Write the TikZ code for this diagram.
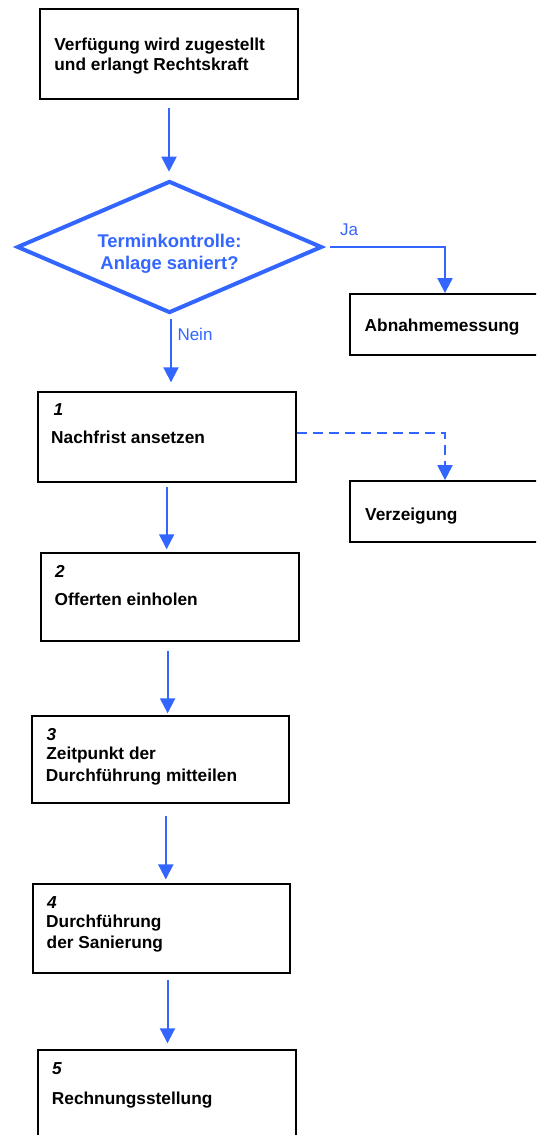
\documentclass[tikz,border=0pt]{standalone}
\usepackage{fontspec}
\setmainfont{Liberation Sans}
\usetikzlibrary{arrows.meta,shapes.geometric}
\definecolor{flowblue}{RGB}{51,102,255}
\tikzset{
  flowbox/.style={draw=black, line width=1.8pt, rectangle, inner sep=0pt},
  decision/.style={draw=flowblue, line width=4pt, diamond, inner sep=0pt},
  arr/.style={draw=flowblue, line width=2pt, -{Triangle[width=15pt,length=15pt]}},
  dasharr/.style={arr, dash pattern=on 10pt off 6pt},
  txt/.style={anchor=base west, inner sep=0pt, text=black, font=\fontsize{17.3}{20}\selectfont\bfseries},
  numtxt/.style={txt, font=\fontsize{17.3}{20}\selectfont\bfseries\itshape},
  bluetxt/.style={anchor=base, inner sep=0pt, text=flowblue, font=\fontsize{18.4}{22}\selectfont\bfseries},
  lbltxt/.style={anchor=base west, inner sep=0pt, text=flowblue, font=\fontsize{17}{20}\selectfont}
}
\begin{document}
\begin{tikzpicture}[x=1pt,y=-1pt]
\path[use as bounding box, clip] (0,0) rectangle (536,1135);
\fill[white] (0,0) rectangle (536,1135);

% boxes
\node[flowbox, minimum width=258pt, minimum height=90.3pt] (topbox) at (169,53.85) {};
\node[decision, minimum width=305pt, minimum height=132pt] (dia) at (169.5,247) {};
\node[flowbox, minimum width=190pt, minimum height=61pt] (abn) at (445,324.5) {};
\node[flowbox, minimum width=258pt, minimum height=90pt] (b1) at (166.65,436.7) {};
\node[flowbox, minimum width=190pt, minimum height=61.3pt] (ver) at (445,511.7) {};
\node[flowbox, minimum width=258pt, minimum height=87.4pt] (b2) at (169.6,597) {};
\node[flowbox, minimum width=257pt, minimum height=87pt] (b3) at (160.8,759.2) {};
\node[flowbox, minimum width=257.5pt, minimum height=89pt] (b4) at (161.5,928.8) {};
\node[flowbox, minimum width=258pt, minimum height=90pt] (b5) at (166.7,1095) {};

% texts
\node[txt] (t0a) at (54.2,50) {Verfügung wird zugestellt};
\node[txt] (t0b) at (54.2,70) {und erlangt Rechtskraft};
\node[bluetxt] (dq1) at (169.5,247.3) {Terminkontrolle:};
\node[bluetxt] (dq2) at (169.5,269.3) {Anlage saniert?};
\node[lbltxt] (ja) at (340,235.3) {Ja};
\node[lbltxt] (nein) at (177.3,340.7) {Nein};
\node[txt] (tabn) at (364.5,331.5) {Abnahmemessung};
\node[numtxt] (n1) at (53.5,415) {1};
\node[txt] (t1) at (51,443.3) {Nachfrist ansetzen};
\node[txt] (tver) at (365,520) {Verzeigung};
\node[numtxt] (n2) at (55,577) {2};
\node[txt] (t2) at (54.4,605.7) {Offerten einholen};
\node[numtxt] (n3) at (46.5,740) {3};
\node[txt] (t3a) at (46.2,759.3) {Zeitpunkt der};
\node[txt] (t3b) at (45.7,781.3) {Durchführung mitteilen};
\node[numtxt] (n4) at (47,908.3) {4};
\node[txt] (t4a) at (46,927.7) {Durchführung};
\node[txt] (t4b) at (46.5,948.3) {der Sanierung};
\node[numtxt] (n5) at (52,1074) {5};
\node[txt] (t5) at (51.7,1104) {Rechnungsstellung};

% connectors
\draw[arr, shorten <=7.8pt, shorten >=7.3pt] (topbox.south) -- (topbox.south |- dia.north);
\draw[arr, shorten <=6pt] (dia.east) -| (abn.north);
\draw[arr, shorten <=4pt, shorten >=8.5pt] ([xshift=1.5pt]dia.south) -- ([xshift=1.5pt]dia.south |- b1.north);
\draw[dasharr] ([yshift=3.4pt]b1.east) -| (ver.north);
\draw[arr, shorten <=4.1pt, shorten >=3.1pt] (b1.south) -- (b1.south |- b2.north);
\draw[arr, shorten <=9pt, shorten >=1.5pt] ([xshift=-2pt]b2.south) -- ([xshift=-2pt]b2.south |- b3.north);
\draw[arr, shorten <=12.4pt, shorten >=4pt] ([xshift=5pt]b3.south) -- ([xshift=5pt]b3.south |- b4.north);
\draw[arr, shorten <=5.8pt, shorten >=5.8pt] ([xshift=6pt]b4.south) -- ([xshift=6pt]b4.south |- b5.north);
\end{tikzpicture}
\end{document}
